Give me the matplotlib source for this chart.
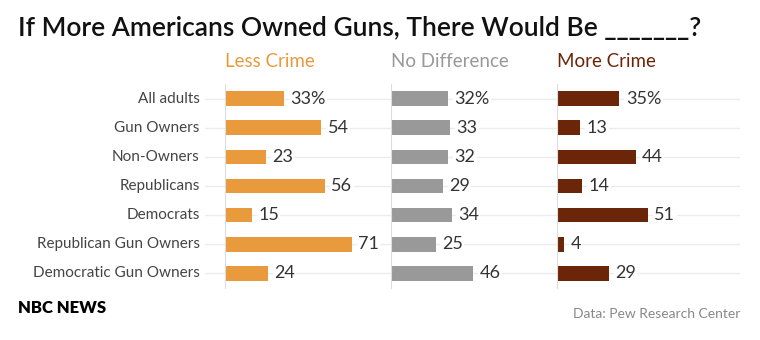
import matplotlib
matplotlib.use('Agg')
import matplotlib.pyplot as plt

plt.rcParams['font.family'] = ['Lato', 'DejaVu Sans']

groups = ['All adults', 'Gun Owners', 'Non-Owners', 'Republicans', 'Democrats',
          'Republican Gun Owners', 'Democratic Gun Owners']
less_crime = [33, 54, 23, 56, 15, 71, 24]
no_difference = [32, 33, 32, 29, 34, 25, 46]
more_crime = [35, 13, 44, 14, 51, 4, 29]

panel_titles = ['Less Crime', 'No Difference', 'More Crime']
panel_colors = ['#E99A3C', '#999999', '#6B260A']
series = [less_crime, no_difference, more_crime]

W, H = 760, 340
fig = plt.figure(figsize=(7.6, 3.4), dpi=100)
fig.patch.set_facecolor('white')

bottom = 1 - 288 / H
top = 1 - 84 / H
height = top - bottom

# background axes for the horizontal gridlines
bg = fig.add_axes([205 / W, bottom, (740 - 205) / W, height])
bg.set_ylim(6.5, -0.5)
bg.set_xlim(0, 1)
for i in range(len(groups)):
    bg.axhline(i, color='#ececec', lw=1, zorder=0)
bg.axis('off')
for i, g in enumerate(groups):
    bg.text(-0.01, i, g, ha='right', va='center', fontsize=11, color='#444444')

lefts = [225, 391, 557]
panel_w = 166
xmax = 93
for k in range(3):
    ax = fig.add_axes([lefts[k] / W, bottom, panel_w / W, height])
    ax.patch.set_alpha(0)
    vals = series[k]
    ax.barh(range(len(groups)), vals, height=0.5, color=panel_colors[k], zorder=2)
    ax.set_ylim(6.5, -0.5)
    ax.set_xlim(0, xmax)
    for i, v in enumerate(vals):
        lab = f'{v}%' if i == 0 else str(v)
        ax.text(v + 3.5, i, lab, ha='left', va='center', fontsize=13, color='#333333',
                zorder=3, bbox=dict(facecolor='white', edgecolor='none', pad=1))
    for s in ['top', 'right', 'bottom']:
        ax.spines[s].set_visible(False)
    ax.spines['left'].set_color('#dddddd')
    ax.set_xticks([])
    ax.set_yticks([])
    ax.text(0, 1.11, panel_titles[k], transform=ax.transAxes, ha='left', va='center',
            fontsize=13.5, color=panel_colors[k])

fig.text(18 / W, 1 - 28 / H, 'If More Americans Owned Guns, There Would Be _______?',
         ha='left', va='center', fontsize=19, fontweight='semibold', color='#111111')
fig.text(18 / W, 1 - 308 / H, 'NBC NEWS', ha='left', va='center', fontsize=12,
         fontweight='heavy', color='#000000')
fig.text(740 / W, 1 - 314 / H, 'Data: Pew Research Center', ha='right', va='center',
         fontsize=10, color='#888888')

fig.savefig('out.png', dpi=100)
